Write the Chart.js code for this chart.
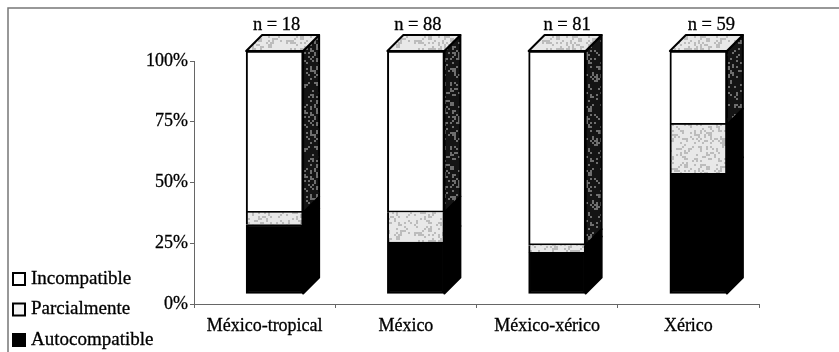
<!DOCTYPE html>
<html>
<head>
<meta charset="utf-8">
<style>
  html, body { margin: 0; padding: 0; background: #fff; overflow: hidden; }
  #wrap { position: relative; width: 839px; height: 352px; }
  canvas { display: block; filter: blur(0.6px); }
</style>
</head>
<body>
<div id="wrap"><canvas id="chart" width="839" height="352"></canvas></div>
<script src="https://cdn.jsdelivr.net/npm/chart.js@4/dist/chart.umd.min.js"></script>
<script>
const categories = ['México-tropical', 'México', 'México-xérico', 'Xérico'];
const sampleSizes = ['n = 18', 'n = 88', 'n = 81', 'n = 59'];
const autocompatible = [28.6, 21.4, 17.1, 49.7];
const parcialmente = [4.9, 12.2, 3.0, 20.0];
const incompatible = [66.5, 66.4, 79.9, 30.3];
const yTicks = [0, 25, 50, 75, 100];

const FONT = '"Liberation Serif", "Times New Roman", serif';
const DEPTH = 16;
const FRONT_DX = 10;
const FRONT_DY = -10;
const NLABEL_SHIFT = [2, 2, 10, 13];

// scanned-looking speckle fills, the hash is only for texture
function speckle(base, dot, amount) {
  const c = document.createElement('canvas');
  c.width = 64; c.height = 64;
  const x = c.getContext('2d');
  x.fillStyle = base;
  x.fillRect(0, 0, 64, 64);
  x.fillStyle = dot;
  for (let i = 0; i < 64; i += 2) {
    for (let j = 0; j < 64; j += 2) {
      const h = Math.sin(i * 12.9898 + j * 78.233) * 43758.5453;
      if (h - Math.floor(h) < amount) x.fillRect(i, j, 2, 2);
    }
  }
  return x.createPattern(c, 'repeat');
}
const lightFill = speckle('#e8e8e8', '#bcbcbc', 0.3);
const darkFill = speckle('#141414', '#6e6e6e', 0.25);

function poly(ctx, pts, fill) {
  ctx.beginPath();
  pts.forEach((p, i) => i ? ctx.lineTo(p[0], p[1]) : ctx.moveTo(p[0], p[1]));
  ctx.closePath();
  ctx.fillStyle = fill;
  ctx.fill();
  ctx.stroke();
}

const frame = {
  id: 'frame',
  beforeDraw(chart) {
    const ctx = chart.ctx;
    ctx.save();
    ctx.strokeStyle = '#777';
    ctx.lineWidth = 1.5;
    ctx.beginPath();
    ctx.moveTo(8, 352);
    ctx.lineTo(8, 8);
    ctx.lineTo(839, 8);
    ctx.stroke();
    ctx.restore();
  }
};

// the library draws the front faces; this shifts them and adds side and top
const box3d = {
  id: 'box3d',
  beforeDatasetsDraw(chart) {
    const ctx = chart.ctx;
    ctx.save();
    ctx.translate(FRONT_DX, FRONT_DY);
    ctx.strokeStyle = '#000';
    ctx.lineWidth = 2;
    ctx.lineJoin = 'round';
    chart.data.datasets.forEach((ds, d) => {
      chart.getDatasetMeta(d).data.forEach(bar => {
        const r = bar.x + bar.width / 2;
        poly(ctx, [[r, bar.y], [r + DEPTH, bar.y - DEPTH], [r + DEPTH, bar.base - DEPTH], [r, bar.base]], ds.sideColor);
      });
    });
    const last = chart.data.datasets.length - 1;
    chart.getDatasetMeta(last).data.forEach(bar => {
      const l = bar.x - bar.width / 2, r = bar.x + bar.width / 2;
      poly(ctx, [[l, bar.y], [r, bar.y], [r + DEPTH, bar.y - DEPTH], [l + DEPTH, bar.y - DEPTH]], lightFill);
    });
  },
  afterDatasetsDraw(chart) {
    const ctx = chart.ctx;
    ctx.restore();
    const last = chart.data.datasets.length - 1;
    ctx.save();
    ctx.font = '18.5px ' + FONT;
    ctx.fillStyle = '#000';
    ctx.strokeStyle = '#000';
    ctx.lineWidth = 0.3;
    ctx.textAlign = 'center';
    ctx.textBaseline = 'middle';
    chart.getDatasetMeta(last).data.forEach((bar, i) => {
      const x = bar.x + FRONT_DX + NLABEL_SHIFT[i], y = bar.y + FRONT_DY - DEPTH - 10;
      ctx.fillText(sampleSizes[i], x, y);
      ctx.strokeText(sampleSizes[i], x, y);
    });
    ctx.restore();
  }
};

// legend sits under the y axis labels, so it is placed by hand
const sideLegend = {
  id: 'sideLegend',
  afterDraw(chart) {
    const ctx = chart.ctx;
    ctx.save();
    ctx.font = '19px ' + FONT;
    ctx.textBaseline = 'middle';
    ctx.strokeStyle = '#000';
    chart.data.datasets.slice().reverse().forEach((ds, i) => {
      const y = 279 + i * 30.5;
      ctx.lineWidth = 2;
      ctx.fillStyle = ds.legendFill;
      ctx.fillRect(13, y - 6, 12, 12);
      ctx.strokeRect(13, y - 6, 12, 12);
      ctx.fillStyle = '#000';
      ctx.lineWidth = 0.3;
      ctx.fillText(ds.label, 31, y);
      ctx.strokeText(ds.label, 31, y);
    });
    ctx.restore();
  }
};

Chart.defaults.font.family = FONT;
Chart.defaults.color = '#000';

new Chart(document.getElementById('chart'), {
  type: 'bar',
  data: {
    labels: categories,
    datasets: [
      { label: 'Autocompatible', data: autocompatible, backgroundColor: '#000', borderColor: '#000', borderWidth: 2, sideColor: '#000', legendFill: '#000' },
      { label: 'Parcialmente', data: parcialmente, backgroundColor: lightFill, borderColor: '#000', borderWidth: { left: 2, right: 2, top: 0, bottom: 0 }, sideColor: '#000', legendFill: '#f4f4f4' },
      { label: 'Incompatible', data: incompatible, backgroundColor: '#fff', borderColor: '#000', borderWidth: 2, sideColor: darkFill, legendFill: '#fff' }
    ]
  },
  options: {
    responsive: false,
    animation: false,
    layout: { padding: { top: 61, right: 80, left: 134, bottom: 0 } },
    datasets: { bar: { barThickness: 57, borderSkipped: false, clip: false } },
    scales: {
      x: {
        stacked: true,
        afterFit(s) { s.height = 48; },
        border: { color: '#666', width: 1 },
        grid: { drawOnChartArea: false, tickLength: 4, color: '#666', offset: true },
        ticks: { font: { size: 18 }, maxRotation: 0, padding: 7, textStrokeWidth: 0.3, textStrokeColor: '#000' }
      },
      y: {
        stacked: true,
        min: 0,
        max: 100,
        afterFit(s) { s.width = 60; },
        afterBuildTicks(s) { s.ticks = yTicks.map(v => ({ value: v })); },
        border: { color: '#666', width: 1 },
        grid: { drawOnChartArea: false, tickLength: 4, color: '#666' },
        ticks: { font: { size: 18 }, padding: 2, textStrokeWidth: 0.3, textStrokeColor: '#000', callback: v => v + '%' }
      }
    },
    plugins: {
      tooltip: { enabled: false },
      legend: { display: false }
    }
  },
  plugins: [frame, box3d, sideLegend]
});
</script>
</body>
</html>
